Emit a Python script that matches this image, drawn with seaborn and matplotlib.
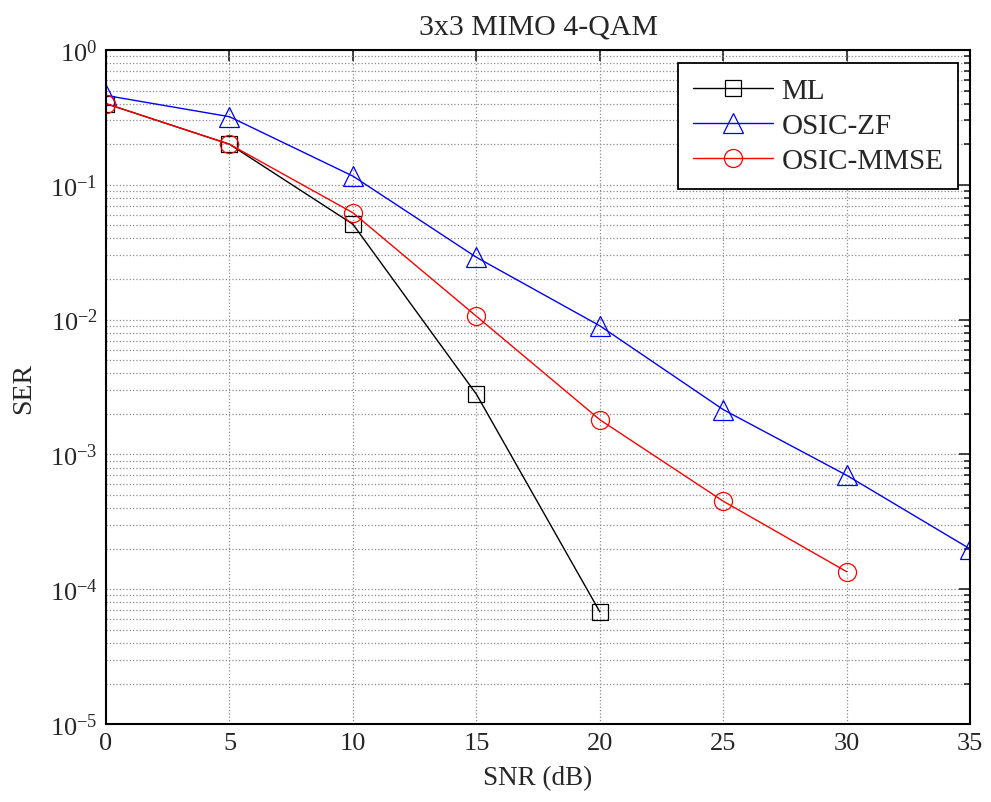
import pandas as pd
import numpy as np
import matplotlib
matplotlib.use("Agg")
import matplotlib.pyplot as plt
import seaborn as sns
from matplotlib.ticker import LogLocator, FixedLocator

snr_ml = [0, 5, 10, 15, 20]
ser_ml = [0.40, 0.20, 0.051, 0.0028, 6.8e-5]

snr_zf = [0, 5, 10, 15, 20, 25, 30, 35]
ser_zf = [0.46, 0.32, 0.116, 0.029, 0.0090, 0.00215, 7.0e-4, 1.99e-4]

snr_mmse = [0, 5, 10, 15, 20, 25, 30]
ser_mmse = [0.40, 0.20, 0.062, 0.0106, 0.00181, 4.5e-4, 1.35e-4]

x_ticks = [0, 5, 10, 15, 20, 25, 30, 35]

sns.set_style("white")
plt.rcParams['font.family'] = ['Liberation Serif', 'DejaVu Serif']
plt.rcParams['mathtext.fontset'] = 'custom'
plt.rcParams['mathtext.rm'] = 'Liberation Serif'
plt.rcParams['mathtext.it'] = 'Liberation Serif:italic'

fig = plt.figure(figsize=(9.91, 8.03), dpi=100)
ax = fig.add_axes([0.107, 0.097, 0.872, 0.8395])

series = [
    (snr_ml, ser_ml, 'ML', 'black', 's', 12),
    (snr_zf, ser_zf, 'OSIC-ZF', 'blue', '^', 14),
    (snr_mmse, ser_mmse, 'OSIC-MMSE', 'red', 'o', 13),
]
for xs, ys, name, col, mk, ms in series:
    sns.lineplot(x=xs, y=ys, ax=ax, color=col, marker=mk, markersize=ms,
                 markerfacecolor='none', markeredgecolor=col, markeredgewidth=0.9,
                 linewidth=1.0, label=name)

ax.set_yscale('log')
ax.set_xlim(0, 35)
ax.set_ylim(1e-5, 1)
ax.xaxis.set_major_locator(FixedLocator(x_ticks))
ax.yaxis.set_major_locator(LogLocator(base=10, numticks=10))
ax.yaxis.set_minor_locator(LogLocator(base=10, subs=np.arange(2, 10), numticks=20))

ax.grid(True, which='major', axis='both', color='#8c8c8c', linestyle=':', linewidth=0.9)
ax.grid(True, which='minor', axis='y', color='#8c8c8c', linestyle=':', linewidth=0.9)

ax.tick_params(which='both', direction='in', top=True, right=True, labelsize=19, width=1.2)
ax.tick_params(which='major', length=8)
ax.tick_params(which='minor', length=4.5)
ax.tick_params(axis='x', pad=6)
ax.tick_params(axis='y', pad=6)
for s in ax.spines.values():
    s.set_linewidth(1.5)
    s.set_color('black')

ax.set_xlabel('SNR (dB)', fontsize=19.5, labelpad=8)
ax.set_ylabel('SER', fontsize=20, labelpad=10)
ax.set_title('3x3 MIMO 4-QAM', fontsize=21.5, pad=12)

leg = ax.legend(loc='upper right', bbox_to_anchor=(0.986, 0.981), fontsize=21,
                frameon=True, fancybox=False, edgecolor='black', framealpha=1,
                handlelength=2.75, borderpad=0.5, labelspacing=0.3, handletextpad=0.3,
                borderaxespad=0.0)
leg.get_frame().set_linewidth(1.3)

fig.savefig('out.png', dpi=100)
